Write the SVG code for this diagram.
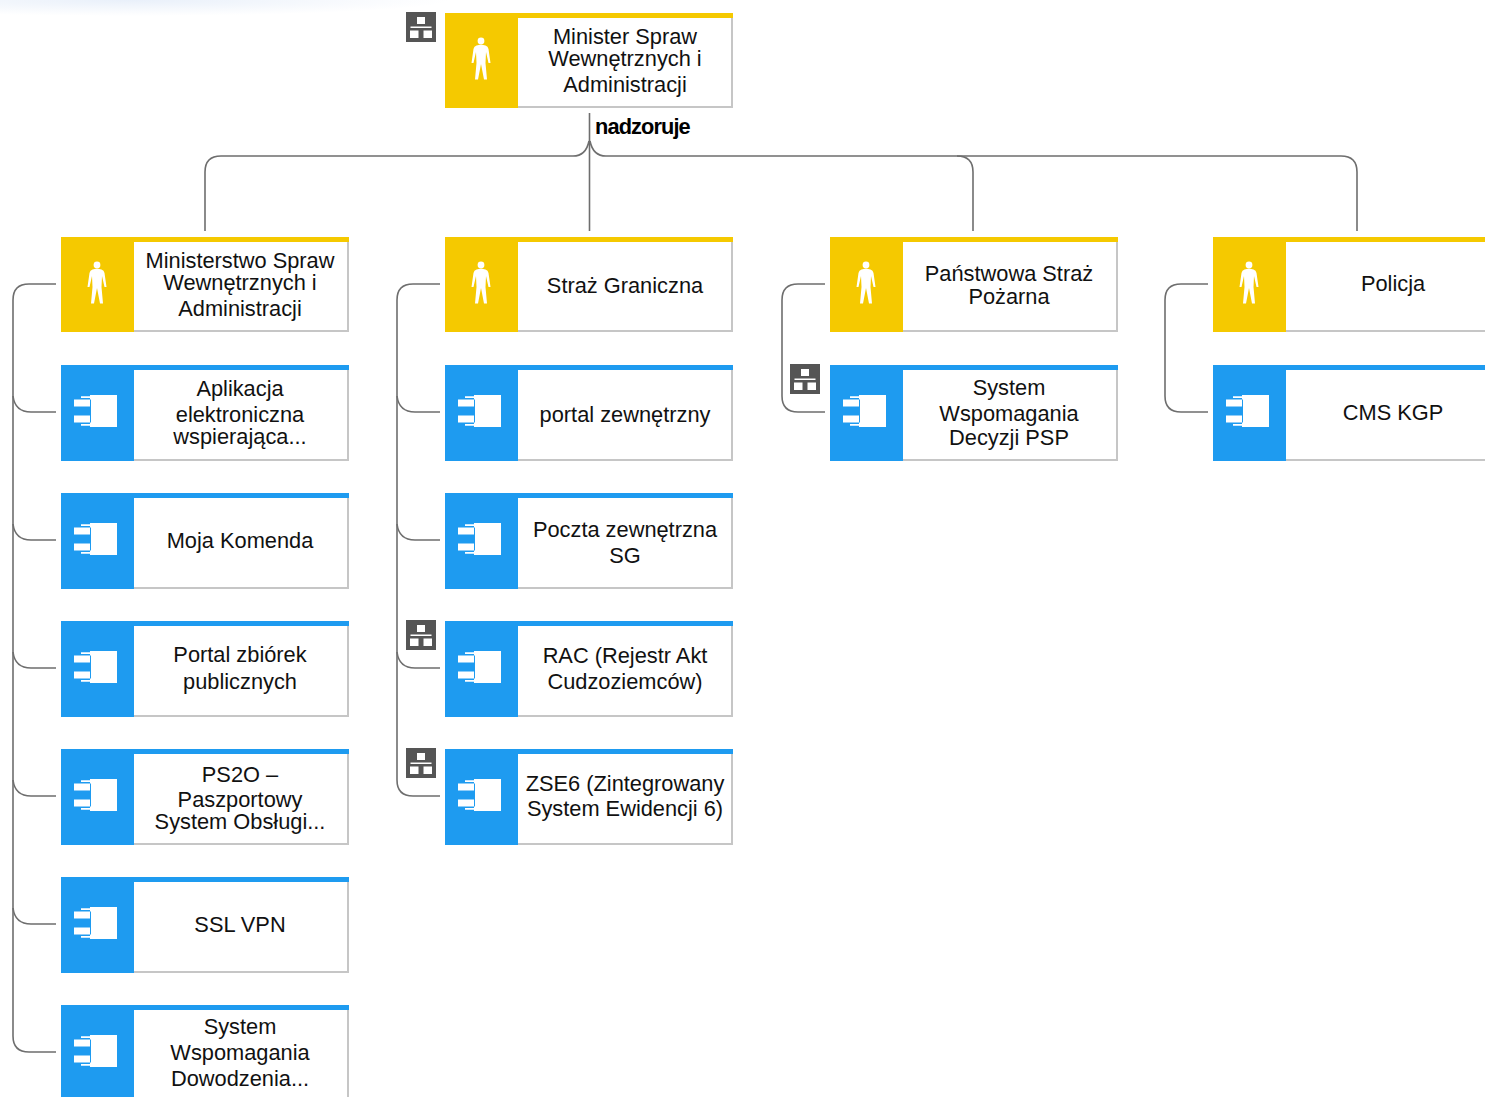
<svg xmlns="http://www.w3.org/2000/svg" width="1485" height="1097" viewBox="0 0 1485 1097">
<style>
text{font-family:"Liberation Sans",Arial,sans-serif;font-size:21.800px;fill:#111;text-anchor:middle}
.lbl{font-weight:bold;text-anchor:start;fill:#000;letter-spacing:-.9px}
.c{fill:none;stroke:#6e6e6e;stroke-width:1.600}
.w{fill:#fff}
.e{fill:none;stroke:#c6c6c6;stroke-width:2}
.y{fill:#f5c900}
.b{fill:#1e9bf0}
.o{fill:#555}
</style>
<defs>
<radialGradient id="haze"><stop offset="0" stop-color="#e9f0fa"/><stop offset="1" stop-color="#fff"/></radialGradient>
<g id="person"><circle cx="36" cy="28" r="3.400" class="w"/><path class="w" d="M31.500 32.500Q36 31 40.500 32.500Q43 33 43.500 36L45.500 50H43.500L41 39L40.500 50L42 66.500H39L36 51L33 66.500H30L31.500 50L31 39L28.500 50H26.500L28.500 36Q29 33 31.500 32.500Z"/></g>
<g id="comp"><path class="w" d="M29 30H56V62H29V60.700H20V59H29V35.500V33H20V31.300H29Z"/><rect class="w" x="13" y="34.500" width="16" height="7"/><rect class="w" x="13" y="50.500" width="16" height="7"/><rect class="b" x="29" y="34.500" width="1" height="23"/></g>
<g id="actor"><rect class="w" width="288" height="95"/><path class="e" d="M287 5V94H73"/><rect class="y" width="288" height="5"/><rect class="y" width="73" height="95"/><use href="#person"/></g>
<g id="app"><rect class="w" width="288" height="96"/><path class="e" d="M287 5V95H73"/><rect class="b" width="288" height="5"/><rect class="b" width="73" height="96"/><use href="#comp"/></g>
<g id="actor-cut"><rect class="w" width="272" height="95"/><path class="e" d="M272 94H73"/><rect class="y" width="272" height="5"/><rect class="y" width="73" height="95"/><use href="#person"/></g>
<g id="app-cut"><rect class="w" width="272" height="96"/><path class="e" d="M272 95H73"/><rect class="b" width="272" height="5"/><rect class="b" width="73" height="96"/><use href="#comp"/></g>
<g id="org"><rect class="o" width="30" height="30"/><rect class="w" x="11" y="5" width="8" height="7"/><rect class="w" x="4.500" y="14.500" width="21" height="1.500"/><rect class="w" x="4" y="18.500" width="8.500" height="7.500"/><rect class="w" x="17.500" y="18.500" width="8.500" height="7.500"/></g>
</defs>
<ellipse cx="130" cy="0" rx="320" ry="16" fill="url(#haze)"/>
<g id="connectors">
<path class="c" d="M589.500 113V231"/>
<path class="c" d="M589 141Q586 156 573 156H221Q205 156 205 172V231"/>
<path class="c" d="M590 141Q593 156 606 156H1341Q1357 156 1357 172V231"/>
<path class="c" d="M957 156Q973 156 973 172V231"/>
<path class="c" d="M56 284H29Q13 284 13 300V1036Q13 1052 29 1052H56"/>
<path class="c" d="M13 396Q15 412 31 412H56M13 524Q15 540 31 540H56M13 652Q15 668 31 668H56M13 780Q15 796 31 796H56M13 908Q15 924 31 924H56"/>
<path class="c" d="M440 284H413Q397 284 397 300V780Q397 796 413 796H440"/>
<path class="c" d="M397 396Q399 412 415 412H440M397 524Q399 540 415 540H440M397 652Q399 668 415 668H440"/>
<path class="c" d="M825 284H798Q782 284 782 300V396Q782 412 798 412H825"/>
<path class="c" d="M1208 284H1181Q1165 284 1165 300V396Q1165 412 1181 412H1208"/>
<text class="lbl" x="595" y="134">nadzoruje</text>
</g>
<g id="n-minister"><use href="#actor" x="445" y="13"/><text x="625" y="44">Minister Spraw</text><text x="625" y="66">Wewnętrznych i</text><text x="625" y="92">Administracji</text></g>
<use id="org-minister" href="#org" x="406" y="12"/>
<g id="n-mswia"><use href="#actor" x="61" y="237"/><text x="240" y="268">Ministerstwo Spraw</text><text x="240" y="290">Wewnętrznych i</text><text x="240" y="316">Administracji</text></g>
<g id="n-aplikacja"><use href="#app" x="61" y="365"/><text x="240" y="396">Aplikacja</text><text x="240" y="422">elektroniczna</text><text x="240" y="444">wspierająca...</text></g>
<g id="n-moja"><use href="#app" x="61" y="493"/><text x="240" y="548">Moja Komenda</text></g>
<g id="n-portal"><use href="#app" x="61" y="621"/><text x="240" y="662">Portal zbiórek</text><text x="240" y="689">publicznych</text></g>
<g id="n-ps2o"><use href="#app" x="61" y="749"/><text x="240" y="782">PS2O –</text><text x="240" y="807">Paszportowy</text><text x="240" y="829">System Obsługi...</text></g>
<g id="n-ssl"><use href="#app" x="61" y="877"/><text x="240" y="932">SSL VPN</text></g>
<g id="n-swd"><use href="#app" x="61" y="1005"/><text x="240" y="1034">System</text><text x="240" y="1060">Wspomagania</text><text x="240" y="1086">Dowodzenia...</text></g>
<g id="n-sg"><use href="#actor" x="445" y="237"/><text x="625" y="293">Straż Graniczna</text></g>
<g id="n-portalz"><use href="#app" x="445" y="365"/><text x="625" y="422">portal zewnętrzny</text></g>
<g id="n-poczta"><use href="#app" x="445" y="493"/><text x="625" y="537">Poczta zewnętrzna</text><text x="625" y="563">SG</text></g>
<g id="n-rac"><use href="#app" x="445" y="621"/><text x="625" y="663">RAC (Rejestr Akt</text><text x="625" y="689">Cudzoziemców)</text></g>
<use id="org-rac" href="#org" x="406" y="620"/>
<g id="n-zse"><use href="#app" x="445" y="749"/><text x="625" y="791">ZSE6 (Zintegrowany</text><text x="625" y="816">System Ewidencji 6)</text></g>
<use id="org-zse" href="#org" x="406" y="748"/>
<g id="n-psp"><use href="#actor" x="830" y="237"/><text x="1009" y="281">Państwowa Straż</text><text x="1009" y="304">Pożarna</text></g>
<g id="n-swdp"><use href="#app" x="830" y="365"/><text x="1009" y="395">System</text><text x="1009" y="421">Wspomagania</text><text x="1009" y="445">Decyzji PSP</text></g>
<use id="org-swdp" href="#org" x="790" y="364"/>
<g id="n-policja"><use href="#actor-cut" x="1213" y="237"/><text x="1393" y="291">Policja</text></g>
<g id="n-cms"><use href="#app-cut" x="1213" y="365"/><text x="1393" y="420">CMS KGP</text></g>
</svg>
